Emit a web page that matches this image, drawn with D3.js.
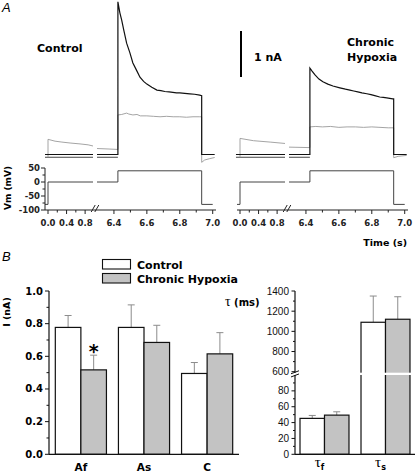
<!DOCTYPE html>
<html><head><meta charset="utf-8">
<script src="https://cdn.jsdelivr.net/npm/d3@7"></script>
<style>body{margin:0;background:#fff}svg{display:block}</style>
</head><body>
<script>
// ================= DATA =================
// Panel A: time axis ticks (s)
const timeTicksMajor = [0.0, 0.4, 0.8, 6.4, 6.6, 6.8, 7.0];
const timeTicksMinor = [0.2, 0.6, 6.5, 6.7, 6.9];
const timeLabels = ["0.0","0.4","0.8","6.4","6.6","6.8","7.0"];
const vmTicksMajor = [50, 0, -50, -100];
const vmTicksMinor = [25, -25, -75];
// voltage protocol [t (s), mV]
const vmSeg1 = [[-0.065,-80],[0,-80],[0,0],[0.97,0]];
const vmSeg2 = [[6.297,0],[6.424,0],[6.424,40],[6.933,40],[6.933,-80],[7.0,-80]];
// Control current traces [t (s), nA]
const ctrlLeak1 = [[-0.065,-0.06],[0.97,-0.06]];
const ctrlLeak2 = [[6.297,-0.06],[6.424,-0.06]];
const ctrlBlack1 = [[-0.065,0],[0.97,0]];
const ctrlBlack2 = [[6.297,0],[6.424,0],[6.424,3.32],[6.436,3.08],[6.447,2.92],[6.461,2.68],[6.477,2.42],[6.497,2.21],[6.515,1.99],[6.536,1.84],[6.558,1.68],[6.58,1.59],[6.6,1.53],[6.63,1.46],[6.661,1.40],[6.685,1.39],[6.709,1.37],[6.735,1.36],[6.758,1.35],[6.78,1.34],[6.8,1.34],[6.83,1.33],[6.861,1.32],[6.89,1.31],[6.921,1.29],[6.933,1.28],[6.933,0],[7.012,0]];
const ctrlGray1 = [[0,-0.06],[0,0.33],[0.151,0.29],[0.30,0.27],[0.476,0.25],[0.69,0.23],[0.865,0.21],[0.97,0.185]];
const ctrlGray2 = [[6.297,0.13],[6.364,0.12],[6.424,0.11],[6.424,0.86],[6.447,0.87],[6.477,0.90],[6.49,0.88],[6.515,0.86],[6.54,0.87],[6.56,0.84],[6.6,0.84],[6.64,0.83],[6.68,0.82],[6.72,0.83],[6.76,0.82],[6.8,0.82],[6.84,0.81],[6.88,0.82],[6.921,0.82],[6.933,0.82],[6.933,-0.17],[6.951,-0.12],[6.982,-0.09],[7.012,-0.065]];
// Chronic hypoxia current traces
const hypLeak1 = [[-0.087,-0.06],[0.97,-0.06]];
const hypLeak2 = [[6.297,-0.06],[6.424,-0.06]];
const hypBlack1 = [[-0.087,0],[0.97,0]];
const hypBlack2 = [[6.297,0],[6.424,0],[6.424,1.88],[6.436,1.82],[6.455,1.73],[6.479,1.64],[6.503,1.58],[6.533,1.53],[6.564,1.49],[6.606,1.45],[6.64,1.42],[6.667,1.40],[6.69,1.38],[6.715,1.36],[6.74,1.34],[6.77,1.32],[6.795,1.30],[6.818,1.28],[6.848,1.25],[6.87,1.24],[6.891,1.23],[6.927,1.21],[6.933,1.21],[6.933,0],[7.012,0]];
const hypGray1 = [[0,-0.06],[0,0.35],[0.29,0.30],[0.65,0.27],[0.97,0.24]];
const hypGray2 = [[6.297,0.16],[6.424,0.15],[6.424,0.60],[6.46,0.61],[6.5,0.60],[6.55,0.61],[6.6,0.59],[6.65,0.60],[6.7,0.60],[6.75,0.59],[6.8,0.60],[6.85,0.59],[6.9,0.58],[6.933,0.58],[6.933,-0.07],[6.96,-0.04],[7.012,-0.02]];

// Panel B left: amplitudes (nA)
const groups = ["Af","As","C"];
const ctrlMean = [0.777, 0.777, 0.495];
const ctrlErr  = [0.073, 0.138, 0.067];
const hypMean  = [0.517, 0.685, 0.615];
const hypErr   = [0.090, 0.105, 0.130];
const iTicksMajor = [0, 0.2, 0.4, 0.6, 0.8, 1.0];
const iTicksMinor = [0.1, 0.3, 0.5, 0.7, 0.9];
// Panel B right: time constants (ms)
const tauGroups = ["f","s"];
const tauCtrlMean = [45.3, 1090];
const tauCtrlErr  = [3.7, 260];
const tauHypMean  = [49.4, 1120];
const tauHypErr   = [4.2, 223];
const tauLowMajor = [0, 20, 40, 60, 80];
const tauLowMinor = [10, 30, 50, 70, 90];
const tauHighMajor = [600, 800, 1000, 1200, 1400];
const tauHighMinor = [700, 900, 1100, 1300];
const seriesNames = ["Control", "Chronic Hypoxia"];

// ================= DRAW =================
const W = 416, H = 474;
const BOLD = "'DejaVu Sans', Verdana, sans-serif";
const svg = d3.select("body").append("svg").attr("width", W).attr("height", H);

// ---------- Panel A ----------
svg.append("text").attr("x", 2).attr("y", 12).text("A")
  .style("font-family","'Liberation Sans', Arial, sans-serif").style("font-style","italic").style("font-size","13px");

const x = d3.scaleLinear().domain([-0.065, 0.97, 6.297, 7.02]).range([45, 93, 97, 216]);
const yV = d3.scaleLinear().domain([-100, 50]).range([210, 168]);
const yI = d3.scaleLinear().domain([0, 1]).range([154.5, 108.5]);
const lineI = d3.line().x(d => x(d[0])).y(d => yI(d[1]));
const lineV = d3.line().x(d => x(d[0])).y(d => yV(d[1]));

function drawPanel(g, leak, gray, black) {
  leak.forEach(s => g.append("path").attr("d", lineI(s)).attr("fill","none").attr("stroke","#444").attr("stroke-width",1));
  gray.forEach(s => g.append("path").attr("d", lineI(s)).attr("fill","none").attr("stroke","#9a9a9a").attr("stroke-width",0.9));
  black.forEach(s => g.append("path").attr("d", lineI(s)).attr("fill","none").attr("stroke","#111").attr("stroke-width",1.2));
  [vmSeg1, vmSeg2].forEach(s => g.append("path").attr("d", lineV(s)).attr("fill","none").attr("stroke","#444").attr("stroke-width",1));
  // time axis
  const ay = yV(-100);
  g.append("line").attr("x1", x(-0.065)).attr("x2", x(7.02)).attr("y1", ay).attr("y2", ay).attr("stroke","#222").attr("stroke-width",1);
  timeTicksMajor.forEach((t,i) => {
    g.append("line").attr("x1", x(t)).attr("x2", x(t)).attr("y1", ay).attr("y2", ay+4).attr("stroke","#222");
    g.append("text").attr("x", x(t)).attr("y", ay+16).attr("text-anchor","middle").text(timeLabels[i])
      .style("font-family",BOLD).style("font-weight","bold").style("font-size","8.5px").attr("fill","#222");
  });
  timeTicksMinor.forEach(t => g.append("line").attr("x1", x(t)).attr("x2", x(t)).attr("y1", ay).attr("y2", ay+2.5).attr("stroke","#222"));
  // break marks
  const bx = (x(0.97) + x(6.297)) / 2;
  [-1.8, 1.8].forEach(o => g.append("line").attr("x1", bx+o-2).attr("y1", ay+2).attr("x2", bx+o+2).attr("y2", ay-5).attr("stroke","#222").attr("stroke-width",1));
}

const gL = svg.append("g");
drawPanel(gL, [ctrlLeak1, ctrlLeak2], [ctrlGray1, ctrlGray2], [ctrlBlack1, ctrlBlack2]);
const gR = svg.append("g").attr("transform","translate(192,0)");
drawPanel(gR, [hypLeak1, hypLeak2], [hypGray1, hypGray2], [hypBlack1, hypBlack2]);

// Vm axis (left only)
const vx = 45;
gL.append("line").attr("x1",vx).attr("x2",vx).attr("y1",yV(-100)).attr("y2",yV(50)).attr("stroke","#222");
vmTicksMajor.forEach(v => {
  gL.append("line").attr("x1",vx-4).attr("x2",vx).attr("y1",yV(v)).attr("y2",yV(v)).attr("stroke","#222");
  gL.append("text").attr("x",vx-5).attr("y",yV(v)).attr("dy","0.35em").attr("text-anchor","end").text(v)
    .style("font-family",BOLD).style("font-weight","bold").style("font-size","8.5px").attr("fill","#222");
});
vmTicksMinor.forEach(v => gL.append("line").attr("x1",vx-2.5).attr("x2",vx).attr("y1",yV(v)).attr("y2",yV(v)).attr("stroke","#222"));
svg.append("text").attr("transform","translate(11,188) rotate(-90)").attr("text-anchor","middle").text("Vm (mV)")
  .style("font-family",BOLD).style("font-weight","bold").style("font-size","9px");
svg.append("text").attr("x",407).attr("y",246).attr("text-anchor","end").text("Time (s)")
  .style("font-family",BOLD).style("font-weight","bold").style("font-size","9.5px");

// labels & scale bar
const lab = (t, xx, yy, anchor) => svg.append("text").attr("x",xx).attr("y",yy).attr("text-anchor",anchor||"start").text(t)
  .style("font-family",BOLD).style("font-weight","bold").style("font-size","11px");
lab("Control", 37, 52);
lab("Chronic", 347, 46);
lab("Hypoxia", 347, 61);
lab("1 nA", 254, 61);
const sbLen = yI(0) - yI(1);
svg.append("line").attr("x1",241).attr("x2",241).attr("y1",77-sbLen).attr("y2",77).attr("stroke","#000").attr("stroke-width",2);

// ---------- Panel B ----------
svg.append("text").attr("x", 2).attr("y", 261).text("B")
  .style("font-family","'Liberation Sans', Arial, sans-serif").style("font-style","italic").style("font-size","13px");

const fillC = "#ffffff", fillH = "#c3c3c3";
// legend
seriesNames.forEach((n,i) => {
  svg.append("rect").attr("x",102.5).attr("y",259.5+i*14).attr("width",28).attr("height",9.5)
    .attr("fill", i ? fillH : fillC).attr("stroke","#111").attr("stroke-width",1.1);
  lab(n, 137, 268.5+i*14);
});

// left bar chart
const xb = d3.scaleBand().domain(groups).range([49, 239]).paddingInner(0.19).paddingOuter(0.1);
const yb = d3.scaleLinear().domain([0, 1]).range([454.3, 291]);
const bw = xb.bandwidth()/2;
function errBar(cx, y0, y1) {
  svg.append("line").attr("x1",cx).attr("x2",cx).attr("y1",y0).attr("y2",y1).attr("stroke","#8c8c8c").attr("stroke-width",1);
  svg.append("line").attr("x1",cx-3.5).attr("x2",cx+3.5).attr("y1",y1).attr("y2",y1).attr("stroke","#8c8c8c").attr("stroke-width",1);
}
groups.forEach((gname,i) => {
  [[ctrlMean[i],ctrlErr[i],fillC,0],[hypMean[i],hypErr[i],fillH,1]].forEach(([m,e,f,k]) => {
    const x0 = xb(gname) + k*bw;
    errBar(x0 + bw/2, yb(m), yb(m+e));
    svg.append("rect").attr("x",x0).attr("y",yb(m)).attr("width",bw).attr("height",yb(0)-yb(m))
      .attr("fill",f).attr("stroke","#111").attr("stroke-width",1.2);
  });
  svg.append("text").attr("x", xb(gname)+xb.bandwidth()/2).attr("y",471).attr("text-anchor","middle").text(gname)
    .style("font-family",BOLD).style("font-weight","bold").style("font-size","10.5px");
});
// star
svg.append("text").attr("x", xb("Af")+1.5*bw).attr("y", yb(hypMean[0]+hypErr[0]) + 3).attr("text-anchor","middle").text("*")
  .style("font-family",BOLD).style("font-weight","bold").style("font-size","19px");
// axes
svg.append("line").attr("x1",49).attr("x2",239).attr("y1",yb(0)).attr("y2",yb(0)).attr("stroke","#111").attr("stroke-width",1.2);
svg.append("line").attr("x1",49).attr("x2",49).attr("y1",yb(0)).attr("y2",yb(1)).attr("stroke","#111").attr("stroke-width",1.2);
iTicksMajor.forEach(v => {
  svg.append("line").attr("x1",45).attr("x2",49).attr("y1",yb(v)).attr("y2",yb(v)).attr("stroke","#111");
  svg.append("text").attr("x",43).attr("y",yb(v)).attr("dy","0.35em").attr("text-anchor","end").text(v.toFixed(1))
    .style("font-family",BOLD).style("font-weight","bold").style("font-size","10px");
});
iTicksMinor.forEach(v => svg.append("line").attr("x1",46.5).attr("x2",49).attr("y1",yb(v)).attr("y2",yb(v)).attr("stroke","#111"));
svg.append("text").attr("transform","translate(9.5,312) rotate(-90)").attr("text-anchor","middle").text("I (nA)")
  .style("font-family",BOLD).style("font-weight","bold").style("font-size","9.5px");

// right bar chart (broken axis)
const xt = d3.scaleBand().domain(tauGroups).range([295, 415]).paddingInner(0.197).paddingOuter(0.082);
const yLow = d3.scaleLinear().domain([0, 100]).range([454.3, 375]);
const yHigh = d3.scaleLinear().domain([590, 1400]).range([372.7, 291]);
const yt = v => v <= 100 ? yLow(v) : yHigh(v);
const tw = xt.bandwidth()/2;
tauGroups.forEach((gname,i) => {
  [[tauCtrlMean[i],tauCtrlErr[i],fillC,0],[tauHypMean[i],tauHypErr[i],fillH,1]].forEach(([m,e,f,k]) => {
    const x0 = xt(gname) + k*tw;
    errBar(x0 + tw/2, yt(m), yt(m+e));
    svg.append("rect").attr("x",x0).attr("y",yt(m)).attr("width",tw).attr("height",yt(0)-yt(m))
      .attr("fill",f).attr("stroke","#111").attr("stroke-width",1.2);
  });
  const t = svg.append("text").attr("x", xt(gname)+xt.bandwidth()/2 - 5).attr("y",467).attr("text-anchor","middle");
  t.append("tspan").text("τ").style("font-family","'Liberation Serif', 'Times New Roman', serif").style("font-size","15px");
  t.append("tspan").attr("dy",3).text(gname).style("font-family",BOLD).style("font-weight","bold").style("font-size","8px");
});
// gap across broken bars
svg.append("rect").attr("x", xt("s")-2).attr("y", yHigh(590)).attr("width", xt.bandwidth()+4).attr("height", yLow(100)-yHigh(590)).attr("fill","#fff");
// axes
const ax = 295;
svg.append("line").attr("x1",ax).attr("x2",415).attr("y1",yLow(0)).attr("y2",yLow(0)).attr("stroke","#111").attr("stroke-width",1.2);
svg.append("line").attr("x1",ax).attr("x2",ax).attr("y1",yLow(0)).attr("y2",yLow(100)).attr("stroke","#111").attr("stroke-width",1.2);
svg.append("line").attr("x1",ax).attr("x2",ax).attr("y1",yHigh(590)).attr("y2",yHigh(1400)).attr("stroke","#111").attr("stroke-width",1.2);
const tickLab = (v, yy) => svg.append("text").attr("x",ax-6).attr("y",yy).attr("dy","0.35em").attr("text-anchor","end").text(v)
  .style("font-family","'Liberation Sans', Arial, sans-serif").style("font-size","10px").attr("fill","#111");
tauLowMajor.forEach(v => { svg.append("line").attr("x1",ax-3.5).attr("x2",ax).attr("y1",yLow(v)).attr("y2",yLow(v)).attr("stroke","#111"); tickLab(v, yLow(v)); });
tauLowMinor.forEach(v => svg.append("line").attr("x1",ax-2).attr("x2",ax).attr("y1",yLow(v)).attr("y2",yLow(v)).attr("stroke","#111"));
tauHighMajor.forEach(v => { svg.append("line").attr("x1",ax-3.5).attr("x2",ax).attr("y1",yHigh(v)).attr("y2",yHigh(v)).attr("stroke","#111"); tickLab(v, yHigh(v)); });
tauHighMinor.forEach(v => svg.append("line").attr("x1",ax-2).attr("x2",ax).attr("y1",yHigh(v)).attr("y2",yHigh(v)).attr("stroke","#111"));
// break mark on axis
const gy = (yHigh(590) + yLow(100)) / 2;
[-1.6, 1.6].forEach(o => svg.append("line").attr("x1",ax-4).attr("y1",gy+o+1.5).attr("x2",ax+4).attr("y2",gy+o-1.5).attr("stroke","#111").attr("stroke-width",1));
// tau label
const tl = svg.append("text").attr("x",225).attr("y",306);
tl.append("tspan").text("τ").style("font-family","'Liberation Serif', 'Times New Roman', serif").style("font-size","14px");
tl.append("tspan").text(" (ms)").style("font-family",BOLD).style("font-weight","bold").style("font-size","10px");
</script>
</body></html>
